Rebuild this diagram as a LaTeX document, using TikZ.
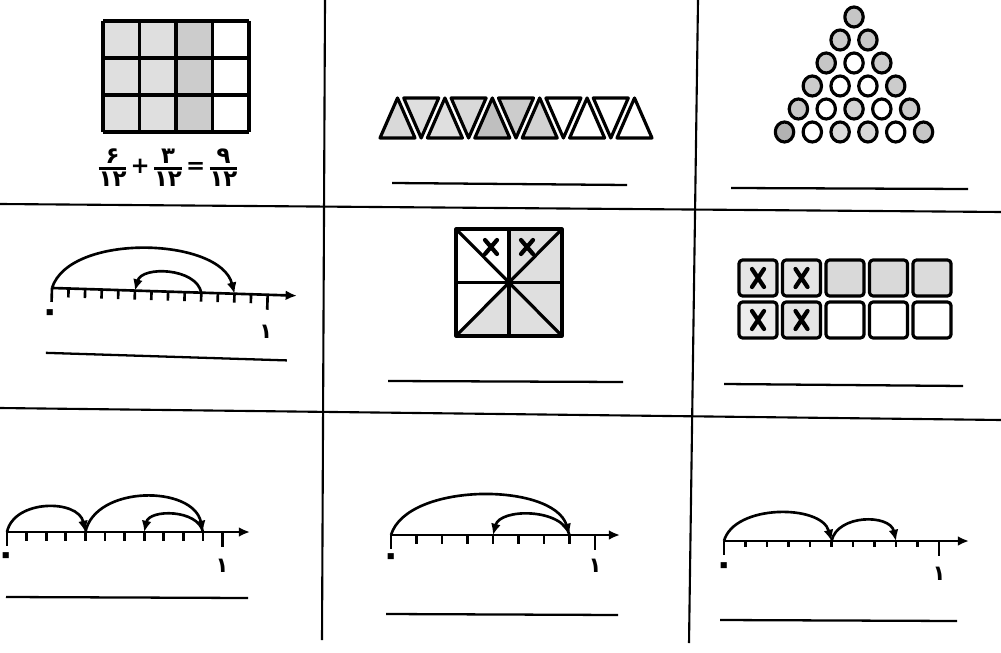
\documentclass[tikz,border=0pt]{standalone}
\usepackage{amsmath}
\usepackage{fontspec}
\newfontfamily\arabicfont[Script=Arabic]{DejaVu Sans}
\usetikzlibrary{arrows.meta}
\begin{document}
\begin{tikzpicture}[>={Latex[length=3.2pt,width=2.8pt]}, x=0.01cm, y=-0.01cm,
  sep/.style={line width=0.6pt},
  thickline/.style={line width=0.9pt, line join=round},
  light/.style={fill=gray!25},
  nline/.style={->, line width=0.75pt},
  tickmark/.style={line width=0.75pt},
  jump/.style={->, line width=0.75pt},
  ans/.style={line width=0.65pt},
  digit/.style={font=\arabicfont\bfseries\fontsize{6}{6}\selectfont, inner sep=0pt},
  zero/.style={font=\arabicfont\bfseries\fontsize{10}{10}\selectfont, inner sep=0pt},
  frac/.style={font=\arabicfont\bfseries\fontsize{6.5}{7}\selectfont, inner sep=0pt},
  xmark/.style={line width=1.2pt, line cap=round}]
\useasboundingbox (0,0) rectangle (1001,652);
% table lines
\draw[sep] (0,204) -- (1001,212);
\draw[sep] (0,408) -- (1001,420);
\draw[sep] (325,0) -- (322,640);
\draw[sep] (698,0) -- (689,643);
% grid 4x3
\fill[gray!25] (103,21) rectangle (176,132);
\fill[gray!40] (176,21) rectangle (212.5,132);
\foreach \i in {0,...,4} \draw[thickline] ({103+\i*36.5},21) -- ++(0,111);
\foreach \j in {0,...,3} \draw[thickline] (103,{21+\j*37}) -- ++(146,0);
\node[frac] (sum) at (168,168) {$\genfrac{}{}{0.8pt}{1}{\mbox{۶}}{\mbox{۱۲}}\mbox{+}\genfrac{}{}{0.8pt}{1}{\mbox{۳}}{\mbox{۱۲}}\mbox{=}\genfrac{}{}{0.8pt}{1}{\mbox{۹}}{\mbox{۱۲}}$};
% triangles
\foreach \i/\f in {0/gray!30, 1/gray!25, 2/gray!25, 3/gray!30, 4/gray!50, 5/gray!40, 6/gray!35, 7/white, 8/white, 9/white, 10/white} {
  \ifodd\i
    \draw[thickline, fill=\f] ({380+\i*23.7},98) -- ++(35,0) -- ++(-17.5,40) -- cycle;
  \else
    \draw[thickline, fill=\f] ({380+\i*23.7},138) -- ++(35,0) -- ++(-17.5,-40) -- cycle;
  \fi
}
\draw[ans] (392,183) -- (627,185);
% circles
\foreach \r/\k/\f in {0/0/gray!45, 1/0/gray!40, 1/1/gray!45, 2/0/gray!45, 2/1/white, 2/2/gray!40,
  3/0/gray!40, 3/1/white, 3/2/white, 3/3/gray!40, 4/0/gray!45, 4/1/white, 4/2/gray!35, 4/3/white, 4/4/gray!40,
  5/0/gray!60, 5/1/white, 5/2/gray!30, 5/3/gray!30, 5/4/white, 5/5/gray!45}
  \draw[thickline, fill=\f] ({854+(\k-\r/2)*27.8},{17+\r*23}) ellipse [x radius=0.092cm, y radius=0.1cm];
\draw[ans] (731,188) -- (968,189);
% number line 13
\begin{scope}[rotate around={-1.8:(52,288)}]
\foreach \i in {0,...,13} \coordinate (m\i) at ({52+\i*16.6},288);
\foreach \i in {1,...,12} \draw[tickmark] (m\i) -- ++(0,9);
\draw[tickmark] (m0) -- ++(0,14);
\draw[tickmark] (m13) -- ++(0,15);
\draw[nline] (m0) -- (297,288);
\draw[jump] (m0) .. controls +(16,-56) and +(-16,-56) .. (m11);
\draw[jump] (m9) .. controls +(-6,-25) and +(6,-25) .. (m5);
\node[zero] (z1) at (51,316) {۰};
\node[digit] (o1) at (267,325) {۱};
\draw[ans] (48,353) -- (289,353);
\end{scope}
% square
\coordinate (c) at (509,282.5);
\fill[light] (c) -- (509,229) -- (562,229) -- (562,336) -- (456,336) -- cycle;
\draw[thickline] (456,229) rectangle (562,336);
\draw[thickline] (509,229) -- (509,336) (456,282.5) -- (562,282.5);
\draw[thickline] (456,229) -- (562,336) (562,229) -- (456,336);
\fill (c) circle (0.035cm);
\foreach \x in {491,527} \draw[xmark] (\x-6,240) -- (\x+6,254) (\x+6,240) -- (\x-6,254);
\draw[ans] (388,381) -- (623,382);
% cards
\foreach \i/\f in {0/gray!20, 1/gray!20, 2/gray!30, 3/gray!30, 4/gray!28}
  \draw[thickline, rounded corners=1pt, fill=\f] ({739+\i*43.5},260) rectangle ++(38,36);
\foreach \i/\f in {0/gray!15, 1/gray!20, 2/white, 3/white, 4/white}
  \draw[thickline, rounded corners=1pt, fill=\f] ({739+\i*43.5},302) rectangle ++(38,36);
\foreach \i in {0,1} \foreach \y in {278,320}
  \draw[xmark] ({758+\i*43.5-6},\y-9) -- ({758+\i*43.5+6},\y+9) ({758+\i*43.5+6},\y-9) -- ({758+\i*43.5-6},\y+9);
\draw[ans] (724,384) -- (963,386);
% number line 11
\foreach \i in {0,...,11} \coordinate (b\i) at ({7+\i*19.6},532);
\foreach \i in {1,...,10} \draw[tickmark] (b\i) -- ++(0,9);
\draw[tickmark] (b0) -- ++(0,14);
\draw[tickmark] (b11) -- ++(0,15);
\draw[nline] (b0) -- (250,532);
\draw[jump] (b0) .. controls +(7,-33) and +(-7,-33) .. (b4);
\draw[jump] (b4) .. controls +(10,-47) and +(-10,-47) .. (b10);
\draw[jump] (b10) .. controls +(-5,-23) and +(5,-23) .. (b7);
\node[zero] (z2) at (6,559) {۰};
\node[digit] (o2) at (222,566) {۱};
\draw[ans] (6,597) -- (248,598);
% number line 8
\foreach \i in {0,...,8} \coordinate (c\i) at ({391+\i*25.5},535);
\foreach \i in {1,...,7} \draw[tickmark] (c\i) -- ++(0,9);
\draw[tickmark] (c0) -- ++(0,14);
\draw[tickmark] (c8) -- ++(0,15);
\draw[nline] (c0) -- (620,535);
\draw[jump] (c0) .. controls +(16,-53) and +(-16,-53) .. (c7);
\draw[jump] (c7) .. controls +(-7,-27) and +(7,-27) .. (c4);
\node[zero] (z3) at (391,560) {۰};
\node[digit] (o3) at (595,566) {۱};
\draw[ans] (386,614) -- (618,615);
% number line 10
\foreach \i in {0,...,10} \coordinate (d\i) at ({724+\i*21.5},541);
\foreach \i in {1,...,9} \draw[tickmark] (d\i) -- ++(0,6);
\draw[tickmark] (d0) -- ++(0,14);
\draw[tickmark] (d10) -- ++(0,15);
\draw[nline] (d0) -- (969,541);
\draw[jump] (d0) .. controls +(10,-37) and +(-10,-37) .. (d5);
\draw[jump] (d5) .. controls +(6,-27) and +(-6,-27) .. (d8);
\node[zero] (z4) at (724,569) {۰};
\node[digit] (o4) at (939,574) {۱};
\draw[ans] (720,620) -- (957,621);
\end{tikzpicture}
\end{document}
